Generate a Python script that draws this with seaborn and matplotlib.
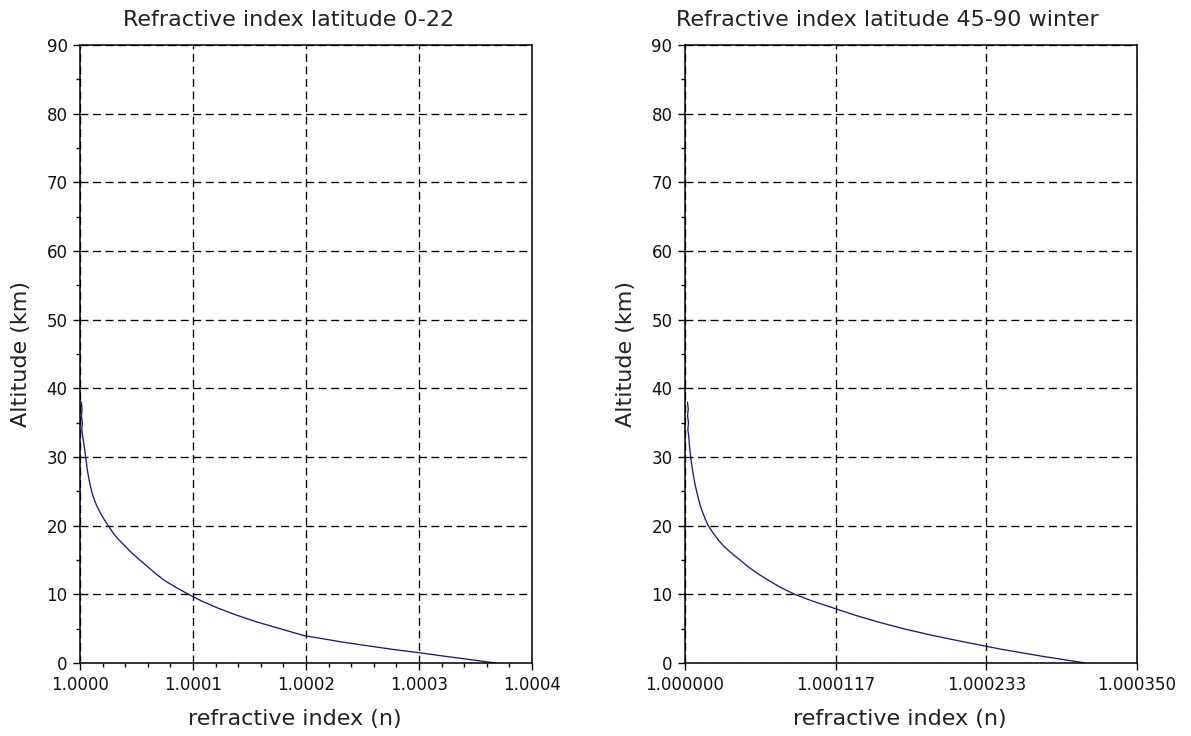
import numpy as np
import pandas as pd
import matplotlib
matplotlib.use("Agg")
import matplotlib.pyplot as plt
from matplotlib.ticker import FixedLocator, MultipleLocator, FormatStrFormatter
import seaborn as sns

# ---- data (refractivity N = (n-1)*1e6) ----
altitude_left = [0, 0.5, 1, 1.5, 2, 3, 4, 5, 6, 7, 8, 9, 10, 11, 12, 13, 14, 15,
                 16, 17, 18, 19, 20, 21, 22, 23, 24, 25, 26, 27, 28, 29, 30,
                 31, 32, 33, 34, 35, 36, 37, 38]
refractivity_left = [368, 345, 322, 300, 276, 234, 198, 177, 156, 138, 122, 108,
                     96, 85, 75, 67, 60, 53, 46, 40, 34, 29, 25, 21, 17.5, 14.5,
                     12.2, 10.3, 8.9, 7.7, 6.6, 5.8, 5.0, 4.2, 3.3, 2.4, 1.6,
                     2.1, 1.3, 1.8, 1.2]

altitude_right = [0, 1, 2, 3, 4, 5, 6, 7, 8, 9, 10, 11, 12, 13, 14, 15, 16, 17,
                  18, 19, 20, 21, 22, 23, 24, 25, 26, 27, 28, 29, 30, 31, 32,
                  33, 34, 35, 36, 37, 38]
refractivity_right = [310, 276, 245, 218, 192, 169, 149, 131, 115, 99, 85, 74,
                      65, 56.5, 49, 42.6, 36, 30, 25.5, 21.5, 18, 15.6, 13.5,
                      11.7, 10.3, 9.0, 7.8, 6.8, 5.9, 5.1, 4.4, 3.8, 3.3, 2.9,
                      2.2, 2.7, 2.0, 2.5, 1.9]

titles = ["Refractive index latitude 0-22", "Refractive index latitude 45-90 winter"]
xlabel = "refractive index (n)"
ylabel = "Altitude (km)"
left_xticks = [1.0000, 1.0001, 1.0002, 1.0003, 1.0004]
right_xticks = [1.000000, 1.000350 / 3 + 2 * 1.0 / 3, 2 * 1.000350 / 3 + 1.0 / 3, 1.000350]
yticks = [0, 10, 20, 30, 40, 50, 60, 70, 80, 90]

df_left = pd.DataFrame({"n": 1 + np.array(refractivity_left) * 1e-6, "alt": altitude_left})
df_right = pd.DataFrame({"n": 1 + np.array(refractivity_right) * 1e-6, "alt": altitude_right})

sns.set_style("white")
plt.rcParams["font.family"] = ["DejaVu Sans"]

W, H = 1191, 736
fig = plt.figure(figsize=(W / 100, H / 100), dpi=100)

def px_axes(x0, x1, ytop, ybot):
    return fig.add_axes([x0 / W, (H - ybot) / H, (x1 - x0) / W, (ybot - ytop) / H])

ax1 = px_axes(80, 532, 45, 663)
ax2 = px_axes(685, 1137, 45, 663)

line_color = "#1c1c72"

def style(ax, df, xlim, xticks, fmt, title, title_x):
    sns.lineplot(data=df, x="n", y="alt", sort=False, estimator=None, ax=ax,
                 color=line_color, linewidth=0.95)
    ax.set_xlim(*xlim)
    ax.set_ylim(0, 90)
    ax.xaxis.set_major_locator(FixedLocator(xticks))
    ax.xaxis.set_major_formatter(FormatStrFormatter(fmt))
    ax.yaxis.set_major_locator(FixedLocator(yticks))
    ax.yaxis.set_minor_locator(MultipleLocator(5))
    ax.grid(True, which="major", color="black", linestyle=(0, (6, 3.5)), linewidth=0.95)
    ax.set_axisbelow(False)
    for s in ax.spines.values():
        s.set_visible(True)
        s.set_color("black")
        s.set_linewidth(1.1)
    ax.tick_params(which="major", direction="out", length=5, width=1, color="black",
                   labelsize=12, pad=4, labelcolor="#111111")
    ax.tick_params(which="minor", direction="out", length=3, width=1, color="black")
    ax.tick_params(axis="both", which="both", top=False, right=False, left=True, bottom=True)
    ax.set_xlabel(xlabel, fontsize=16, color="#222222")
    ax.set_ylabel(ylabel, fontsize=16, color="#222222")
    ax.xaxis.set_label_coords(0.476, -0.074)
    ax.yaxis.set_label_coords(-0.108, 0.5)
    ax.set_title(title, fontsize=16, color="#222222", x=title_x, y=1.031, pad=0)

style(ax1, df_left, (1.0, 1.0004), left_xticks, "%.4f", titles[0], 0.462)
ax1.xaxis.set_minor_locator(MultipleLocator(0.00002))
style(ax2, df_right, (1.0, 1.00035), right_xticks, "%.6f", titles[1], 0.447)

fig.savefig("out.png", dpi=100, facecolor="white")
